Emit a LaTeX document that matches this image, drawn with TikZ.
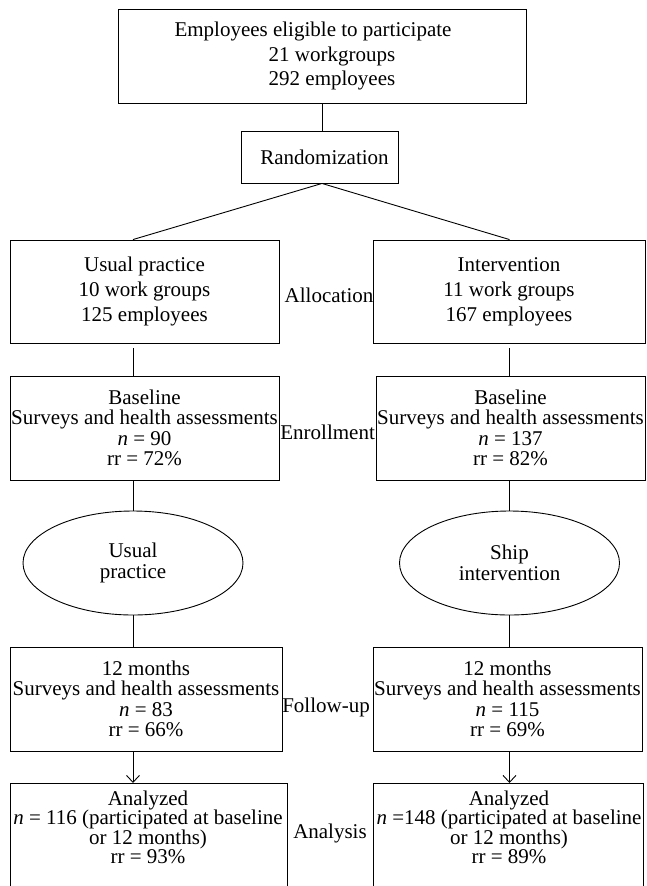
\documentclass[tikz,border=0pt]{standalone}
\usepackage{fontspec}
\setmainfont{Liberation Serif}
\usetikzlibrary{arrows.meta,shapes.geometric}
\begin{document}
\begin{tikzpicture}[x=1pt,y=-1pt,
  every node/.style={font=\fontsize{21}{20.5}\selectfont},
  box/.style={draw, line width=0.9pt, rectangle, inner sep=0pt, align=center},
  oval/.style={draw, line width=0.9pt, ellipse, inner sep=0pt, align=center, minimum width=220pt, minimum height=104pt},
  txt/.style={inner sep=0pt, align=center},
  lbl/.style={inner sep=0pt},
  conn/.style={line width=0.9pt},
  arr/.style={line width=0.9pt, -{Straight Barb[length=7pt,width=13pt]}}]

\useasboundingbox (0,0) rectangle (646,886);

% top
\node[box, minimum width=408pt, minimum height=94pt, font=\fontsize{21}{24.5}\selectfont] (top) at (322,56)
  {Employees eligible to participate\hspace*{18pt}\\\hspace*{20pt}21 workgroups\\\hspace*{20pt}292 employees};
\node[box, minimum width=157pt, minimum height=52pt] (rand) at (319.5,157) {\hspace*{10pt}Randomization};

% ellipses (used for column x positions)
\node[oval] (ellL) at (133,563) {Usual\\practice};
\node[oval] (ellR) at (509.5,563) {Ship\\intervention};

% allocation
\node[box, minimum width=269pt, minimum height=103pt, font=\fontsize{21}{25}\selectfont] (allocL) at (144.5,291.5)
  {Usual practice\\10 work groups\\125 employees};
\node[box, minimum width=272pt, minimum height=103pt, font=\fontsize{21}{25}\selectfont] (allocR) at (509,291.5)
  {Intervention\\11 work groups\\167 employees};

% baseline
\node[box, minimum width=269pt, minimum height=104pt] (baseL) at (144.5,428)
  {Baseline\\Surveys and health assessments\\\textit{n} = 90\\rr = 72\%};
\node[box, minimum width=269pt, minimum height=104pt] (baseR) at (510.5,428)
  {Baseline\\Surveys and health assessments\\\textit{n} = 137\\rr = 82\%};

% follow-up
\node[box, minimum width=272pt, minimum height=104pt] (fuL) at (146,699)
  {12 months\\Surveys and health assessments\\\textit{n} = 83\\rr = 66\%};
\node[box, minimum width=269pt, minimum height=104pt] (fuR) at (507.5,699)
  {12 months\\Surveys and health assessments\\\textit{n} = 115\\rr = 69\%};

% analysis (boxes run past the bottom edge)
\node[box, minimum width=277pt, minimum height=130pt, anchor=north] (anaL) at (148.5,783) {};
\node[box, minimum width=270pt, minimum height=130pt, anchor=north] (anaR) at (508,783) {};
\node[txt, font=\fontsize{21}{19.5}\selectfont] (anaLt) at (148,827.5)
  {Analyzed\\\textit{n} = 116 (participated at baseline\\or 12 months)\\rr = 93\%};
\node[txt, font=\fontsize{21}{19.5}\selectfont] (anaRt) at (509,827.5)
  {Analyzed\\\textit{n} =148 (participated at baseline\\or 12 months)\\rr = 89\%};

% stage labels
\node[lbl] (lalloc) at (329,295) {Allocation};
\node[lbl] (lenrol) at (327.6,432) {Enrollment};
\node[lbl] (lfollow) at (326,707) {Follow-up};
\node[lbl] (lanal) at (330,833) {Analysis};

% connectors
\draw[conn] (top.south) -- (top.south |- rand.north);
\draw[conn] (rand.south -| top.south) -- (allocL.north -| ellL.center);
\draw[conn] (rand.south -| top.south) -- (allocR.north -| ellR.center);

\draw[conn, shorten <=5pt] (allocL.south -| ellL.center) -- (baseL.north -| ellL.center);
\draw[conn, shorten <=5pt] (allocR.south -| ellR.center) -- (baseR.north -| ellR.center);
\draw[conn] (baseL.south -| ellL.center) -- (ellL.north);
\draw[conn] (baseR.south -| ellR.center) -- (ellR.north);
\draw[conn] (ellL.south) -- (fuL.north -| ellL.center);
\draw[conn] (ellR.south) -- (fuR.north -| ellR.center);
\draw[arr] (fuL.south -| ellL.center) -- (anaL.north -| ellL.center);
\draw[arr] (fuR.south -| ellR.center) -- (anaR.north -| ellR.center);
\end{tikzpicture}
\end{document}
